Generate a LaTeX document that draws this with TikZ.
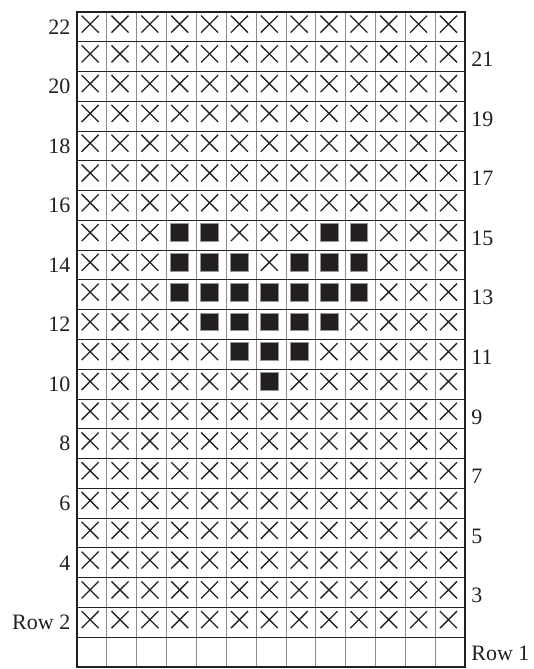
\documentclass[tikz,border=0pt]{standalone}
\usepackage{fontspec}
\setmainfont{Liberation Serif}
\usepackage{tikz}
\definecolor{ink}{RGB}{35,31,32}
\definecolor{gridgray}{RGB}{140,140,140}
\definecolor{boxedge}{RGB}{150,150,150}
\tikzset{
  colline/.style={draw=gridgray, line width=0.8pt},
  rowline/.style={draw=ink, line width=1pt},
  frameline/.style={draw=ink, line width=2.5pt},
  crossmark/.style={draw=ink, line width=1.3pt},
  stitchbox/.style={fill=ink, draw=boxedge, line width=0.7pt},
  lbl/.style={font=\fontsize{22}{26}\selectfont, text=ink, inner sep=0pt},
}
% filled cells, column/row
\foreach \c/\r in {4/15,5/15,9/15,10/15,
                   4/14,5/14,6/14,8/14,9/14,10/14,
                   4/13,5/13,6/13,7/13,8/13,9/13,10/13,
                   5/12,6/12,7/12,8/12,9/12,
                   6/11,7/11,8/11,
                   7/10}
  {\expandafter\xdef\csname filled-\c-\r\endcsname{}}

\begin{document}
\begin{tikzpicture}[x=29.85pt, y=29.77pt]
  \useasboundingbox (-2.58,-0.067) rectangle (15.28,22.40);

  % grid
  \foreach \c in {1,...,12}
    \draw[colline] (\c,0) -- (\c,22);
  \foreach \r in {1,...,21}
    \draw[rowline] (0,\r) -- (13,\r);
  \draw[frameline] (0,0) rectangle (13,22);

  % stitches, row 1 stays empty
  \foreach \r in {2,...,22}
    \foreach \c in {1,...,13} {
      \pgfmathsetmacro\cx{\c-0.56}
      \pgfmathsetmacro\cy{\r-0.41}
      \ifcsname filled-\c-\r\endcsname
        \draw[stitchbox] (\cx-0.3,\cy-0.3) rectangle (\cx+0.3,\cy+0.3);
      \else
        \draw[crossmark] (\cx-0.285,\cy-0.285) -- (\cx+0.285,\cy+0.285)
                         (\cx-0.285,\cy+0.285) -- (\cx+0.285,\cy-0.285);
      \fi
    }

  % row numbers
  \foreach \r in {4,6,...,22}
    \node[lbl, anchor=east] (left\r) at (-0.22,\r-0.5) {\r};
  \node[lbl, anchor=east] (left2) at (-0.22,1.5) {Row 2};
  \foreach \r in {3,5,...,21}
    \node[lbl, anchor=west] (right\r) at (13.2,\r-0.6) {\r};
  \node[lbl, anchor=west] (right1) at (13.2,0.45) {Row 1};
\end{tikzpicture}
\end{document}
